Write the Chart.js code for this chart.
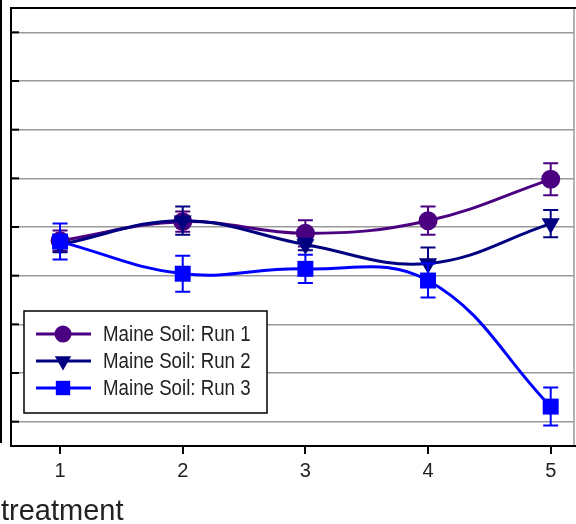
<!DOCTYPE html>
<html>
<head>
<meta charset="utf-8">
<script src="https://cdn.jsdelivr.net/npm/chart.js@4/dist/chart.umd.min.js"></script>
<style>
  html, body { margin: 0; padding: 0; background: #fff; }
  #wrap { width: 576px; height: 524px; }
</style>
</head>
<body>
<div id="wrap"><canvas id="chart" width="576" height="524"></canvas></div>
<script>
// values (y axis labels are cut off, so units are grid steps)
const treatments = [1, 2, 3, 4, 5];
const run1 = [4.72, 5.11, 4.87, 5.13, 5.98];
const run1Err = [0.21, 0.21, 0.27, 0.29, 0.33];
const run2 = [4.64, 5.13, 4.64, 4.25, 5.07];
const run2Err = [0.16, 0.29, 0.12, 0.33, 0.28];
const run3 = [4.70, 4.04, 4.14, 3.90, 1.31];
const run3Err = [0.37, 0.37, 0.29, 0.35, 0.39];
const gridValues = [1, 2, 3, 4, 5, 6, 7, 8, 9];
const seriesNames = ['Maine Soil: Run 1', 'Maine Soil: Run 2', 'Maine Soil: Run 3'];

function points(vals) {
    return vals.map((v, i) => ({ x: treatments[i], y: v }));
}

function drawMarker(ctx, style, x, y, r, color) {
    ctx.save();
    ctx.fillStyle = color;
    ctx.beginPath();
    if (style === 'circle') {
        ctx.arc(x, y, r, 0, Math.PI * 2);
    } else if (style === 'triangle') {
        // pointing down
        const w = r * Math.sqrt(3) / 2;
        ctx.moveTo(x, y + r);
        ctx.lineTo(x - w, y - r / 2);
        ctx.lineTo(x + w, y - r / 2);
        ctx.closePath();
    } else {
        const s = r * Math.SQRT1_2;
        ctx.rect(x - s, y - s, 2 * s, 2 * s);
    }
    ctx.fill();
    ctx.restore();
}

const frame = {
    id: 'frame',
    beforeDatasetsDraw(chart) {
        const { ctx, chartArea: a, scales } = chart;
        ctx.save();
        // right border is grey, the others black
        ctx.strokeStyle = '#999';
        ctx.lineWidth = 1.5;
        ctx.beginPath();
        ctx.moveTo(a.right, a.top);
        ctx.lineTo(a.right, a.bottom);
        ctx.stroke();
        ctx.strokeStyle = '#000';
        ctx.lineWidth = 2;
        ctx.beginPath();
        ctx.moveTo(a.right + 2, a.top);
        ctx.lineTo(a.left, a.top);
        ctx.lineTo(a.left, a.bottom);
        ctx.lineTo(a.right + 2, a.bottom);
        ctx.stroke();
        // inward tick marks on the y axis
        gridValues.forEach(v => {
            const y = scales.y.getPixelForValue(v);
            ctx.beginPath();
            ctx.moveTo(a.left, y);
            ctx.lineTo(a.left + 8, y);
            ctx.stroke();
        });
        // leftover axis line at the far left edge
        ctx.beginPath();
        ctx.moveTo(1, 0);
        ctx.lineTo(1, a.bottom - 3);
        ctx.stroke();
        ctx.restore();
    },
    beforeDatasetDraw(chart, args) {
        // error bars under each series' own markers
        const ds = chart.data.datasets[args.index];
        const { ctx, scales } = chart;
        ctx.save();
        ctx.strokeStyle = ds.borderColor;
        ctx.lineWidth = 2;
        ds.data.forEach((p, i) => {
            const x = scales.x.getPixelForValue(p.x);
            const y1 = scales.y.getPixelForValue(p.y + ds.errors[i]);
            const y2 = scales.y.getPixelForValue(p.y - ds.errors[i]);
            ctx.beginPath();
            ctx.moveTo(x, y1); ctx.lineTo(x, y2);
            ctx.moveTo(x - 7.5, y1); ctx.lineTo(x + 7.5, y1);
            ctx.moveTo(x - 7.5, y2); ctx.lineTo(x + 7.5, y2);
            ctx.stroke();
        });
        ctx.restore();
    },
    afterDraw(chart) {
        const { ctx } = chart;
        ctx.save();
        // legend box
        ctx.fillStyle = '#fff';
        ctx.fillRect(24, 311, 243, 102);
        ctx.strokeStyle = '#000';
        ctx.lineWidth = 1.5;
        ctx.strokeRect(24, 311, 243, 102);
        const rows = [334, 361, 388];
        ctx.font = '22px "Liberation Sans", Arial, sans-serif';
        ctx.textBaseline = 'middle';
        rows.forEach((y, di) => {
            const ds = chart.data.datasets[di];
            ctx.strokeStyle = ds.borderColor;
            ctx.lineWidth = 3;
            ctx.beginPath();
            ctx.moveTo(36, y);
            ctx.lineTo(91, y);
            ctx.stroke();
            drawMarker(ctx, ds.pointStyle, 63, y, ds.pointRadius * 0.9, ds.borderColor);
            // condensed lettering like the original
            ctx.save();
            ctx.translate(103, y + 1);
            ctx.scale(0.85, 1);
            ctx.fillStyle = '#222';
            ctx.fillText(ds.label, 0, 0);
            ctx.restore();
        });
        // x axis title, flush with the left edge
        ctx.fillStyle = '#222';
        ctx.font = '29px "Liberation Sans", Arial, sans-serif';
        ctx.textBaseline = 'alphabetic';
        ctx.fillText('treatment', 1, 520);
        ctx.restore();
    }
};

new Chart(document.getElementById('chart'), {
    type: 'line',
    data: {
        datasets: [
            {
                label: seriesNames[0],
                data: points(run1),
                errors: run1Err,
                borderColor: '#4b0082',
                backgroundColor: '#4b0082',
                pointStyle: 'circle',
                pointRadius: 9.5,
                order: 3
            },
            {
                label: seriesNames[1],
                data: points(run2),
                errors: run2Err,
                borderColor: '#000080',
                backgroundColor: '#000080',
                pointStyle: 'triangle',
                pointRotation: 180,
                pointRadius: 10.5,
                order: 2
            },
            {
                label: seriesNames[2],
                data: points(run3),
                errors: run3Err,
                borderColor: '#0000ff',
                backgroundColor: '#0000ff',
                pointStyle: 'rect',
                pointRadius: 11.3,
                order: 1
            }
        ]
    },
    options: {
        responsive: false,
        animation: false,
        events: [],
        elements: {
            line: { borderWidth: 3, tension: 0.4, fill: false },
            point: { borderWidth: 0, hoverRadius: 0 }
        },
        layout: { autoPadding: false, padding: { left: 11, top: 8, right: 2, bottom: 0 } },
        plugins: { legend: { display: false }, tooltip: { enabled: false } },
        scales: {
            x: {
                type: 'linear',
                min: 0.6,
                max: 5.19,
                afterBuildTicks(scale) {
                    scale.ticks = treatments.map(v => ({ value: v }));
                },
                afterFit(scale) {
                    scale.height = 78;
                    scale.paddingLeft = 0;
                    scale.paddingRight = 0;
                },
                border: { display: false },
                grid: { drawOnChartArea: false, drawTicks: true, tickLength: 8, color: '#000', lineWidth: 2 },
                ticks: {
                    color: '#222',
                    padding: 5,
                    maxRotation: 0,
                    font: { family: '"Liberation Sans", Arial, sans-serif', size: 20 }
                }
            },
            y: {
                min: 0.5,
                max: 9.5,
                afterBuildTicks(scale) {
                    scale.ticks = gridValues.map(v => ({ value: v }));
                },
                border: { display: false },
                grid: { color: '#999', lineWidth: 1.5, drawTicks: false },
                ticks: { display: false }
            }
        }
    },
    plugins: [frame]
});
</script>
</body>
</html>
